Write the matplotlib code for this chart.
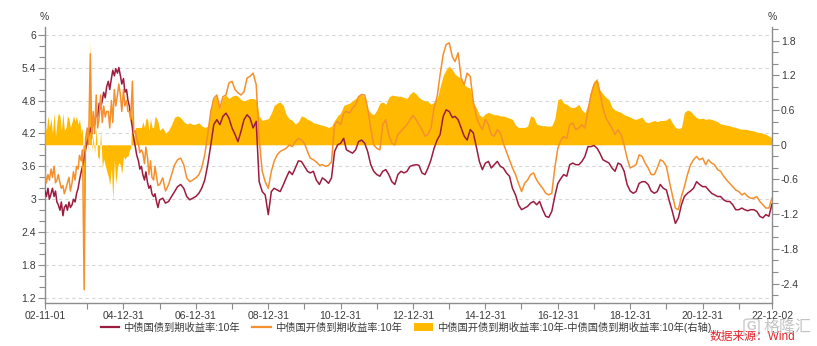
import matplotlib

matplotlib.use("Agg")

import matplotlib.dates as mdates
import matplotlib.pyplot as plt
import numpy as np
import pandas as pd
from matplotlib.lines import Line2D
from matplotlib.patches import FancyBboxPatch, Patch

plt.rcParams["font.family"] = ["Liberation Sans", "Noto Sans CJK SC"]

# ChinaBond 10Y yields (%), semi-monthly 2002-11 .. 2005-12
cgb_early = [
    3.15, 3.05, 3.2, 3.0,
    3.1, 3.2, 3.05, 3.15, 2.95, 2.9, 2.8, 2.95, 2.7, 2.85, 2.9, 2.8,
    2.95, 2.85, 2.9, 3.0, 2.95, 3.1, 3.2, 3.35, 3.5, 3.6, 3.75, 3.9,
    4.05, 4.15, 4.3, 4.2, 4.45, 4.35, 4.6, 4.5, 4.75, 4.65, 4.8, 4.95,
    4.85, 5.05, 5.15, 5.0, 5.2, 5.35, 5.25, 5.38, 5.3, 5.4, 5.25, 5.1,
    5.2, 4.95, 5.0, 4.8, 4.7, 4.5, 4.3, 4.1, 3.95, 3.8, 3.7, 3.55,
    3.6, 3.45, 3.35, 3.5, 3.3, 3.2, 3.25, 3.1, 3.05, 3.1, 2.95, 2.85,
]
cdb_early = [
    3.5, 3.3, 3.45, 3.35,
    3.55, 3.4, 3.6, 3.3, 3.35, 3.45, 3.3, 3.2, 3.25, 3.1, 3.2, 3.3,
    3.4, 3.15, 3.3, 3.5, 3.35, 3.6, 3.55, 3.8, 3.7, 3.9, 1.35, 4.1,
    4.3, 4.0, 5.65, 4.1, 4.6, 4.2, 4.9, 4.3, 4.5, 4.9, 4.4, 4.7,
    4.5, 4.6, 4.6, 4.3, 4.8, 4.4, 5.0, 4.7, 4.9, 5.1, 4.9, 4.6,
    5.0, 4.7, 4.8, 4.6, 4.6, 4.45, 5.15, 4.2, 4.25, 4.1, 4.0, 3.85,
    3.9, 3.85, 3.65, 3.95, 3.75, 3.45, 3.7, 3.4, 3.35, 3.6, 3.4, 3.25,
]
# CDB minus CGB spread (pct pts, right axis), same dates
spread_early = [
    0.35, 0.25, 0.5, 0.3,
    0.45, 0.2, 0.55, 0.15, 0.4, 0.55, 0.5, 0.25, 0.55, 0.25, 0.3, 0.5,
    0.45, 0.3, 0.4, 0.5, 0.4, 0.5, 0.35, 0.45, 0.2, 0.3, -2.0, 0.2,
    0.25, -0.15, 1.8, -0.1, 0.15, -0.15, 0.3, -0.2, -0.25, 0.25, -0.4, -0.25,
    -0.35, -0.45, -0.55, -0.7, -0.4, -0.95, -0.25, -0.68, -0.4, -0.3, -0.35, -0.5,
    -0.2, -0.25, -0.2, -0.2, -0.1, -0.05, 0.85, 0.1, 0.3, 0.3, 0.3, 0.3,
    0.3, 0.4, 0.3, 0.45, 0.45, 0.25, 0.45, 0.3, 0.3, 0.5, 0.45, 0.4,
]

# monthly 2006-01 .. 2022-12, one row per year
cgb_monthly = [
    2.99, 3.02, 2.93, 2.96, 3.05, 3.14, 3.23, 3.27, 3.20, 3.05, 2.99, 3.02,
    3.05, 3.11, 3.20, 3.35, 3.63, 3.99, 4.36, 4.45, 4.36, 4.51, 4.57, 4.48,
    4.30, 4.18, 4.05, 4.24, 4.45, 4.54, 4.48, 4.30, 4.42, 3.32, 3.14, 3.08,
    2.72, 3.14, 3.20, 3.17, 3.14, 3.26, 3.39, 3.51, 3.45, 3.57, 3.70, 3.69,
    3.60, 3.51, 3.48, 3.51, 3.35, 3.27, 3.39, 3.35, 3.29, 3.39, 3.87, 3.99,
    4.02, 4.11, 3.90, 3.87, 3.84, 3.90, 4.05, 4.08, 4.02, 3.87, 3.63, 3.51,
    3.45, 3.42, 3.51, 3.54, 3.45, 3.32, 3.27, 3.45, 3.51, 3.48, 3.51, 3.60,
    3.62, 3.63, 3.62, 3.48, 3.45, 3.57, 3.72, 3.93, 4.08, 4.18, 4.51, 4.63,
    4.60, 4.49, 4.51, 4.45, 4.30, 4.15, 4.08, 4.27, 4.21, 3.96, 3.69, 3.54,
    3.66, 3.69, 3.57, 3.63, 3.69, 3.60, 3.57, 3.48, 3.42, 3.20, 3.08, 2.90,
    2.81, 2.84, 2.87, 2.93, 2.96, 2.90, 2.96, 2.81, 2.69, 2.67, 2.78, 3.05,
    3.29, 3.38, 3.45, 3.42, 3.63, 3.66, 3.63, 3.63, 3.69, 3.78, 3.96, 3.96,
    3.98, 3.93, 3.84, 3.72, 3.69, 3.66, 3.57, 3.51, 3.66, 3.63, 3.51, 3.27,
    3.15, 3.11, 3.14, 3.29, 3.32, 3.32, 3.27, 3.15, 3.11, 3.14, 3.27, 3.20,
    3.17, 2.96, 2.78, 2.56, 2.66, 2.90, 3.05, 3.11, 3.15, 3.20, 3.32, 3.27,
    3.23, 3.23, 3.17, 3.11, 3.08, 3.05, 3.05, 2.99, 2.96, 2.96, 2.90, 2.81,
    2.81, 2.84, 2.81, 2.79, 2.81, 2.81, 2.78, 2.69, 2.66, 2.72, 2.69, 2.91,
]
cdb_monthly = [
    3.27, 3.39, 3.15, 3.27, 3.45, 3.63, 3.72, 3.75, 3.63, 3.39, 3.32, 3.35,
    3.39, 3.45, 3.57, 3.81, 4.18, 4.60, 4.84, 4.90, 4.66, 4.87, 4.90, 5.12,
    5.15, 5.00, 4.94, 4.90, 4.96, 5.21, 5.24, 5.30, 5.09, 4.11, 3.51, 3.32,
    3.20, 3.51, 3.69, 3.81, 3.87, 3.90, 3.93, 3.99, 3.96, 4.05, 4.11, 4.08,
    4.02, 3.87, 3.75, 3.72, 3.68, 3.62, 3.63, 3.60, 3.62, 3.68, 4.36, 4.42,
    4.36, 4.57, 4.60, 4.57, 4.66, 4.72, 4.87, 4.91, 4.90, 4.66, 4.30, 3.99,
    3.93, 3.90, 4.36, 4.45, 4.18, 4.02, 3.99, 4.18, 4.24, 4.30, 4.36, 4.45,
    4.53, 4.45, 4.36, 4.27, 4.15, 4.18, 4.30, 4.66, 4.87, 5.27, 5.64, 5.82,
    5.85, 5.60, 5.51, 5.67, 5.21, 5.09, 5.30, 5.24, 4.78, 4.51, 4.36, 4.27,
    4.45, 4.36, 4.18, 4.15, 4.27, 4.21, 4.02, 3.87, 3.72, 3.57, 3.45, 3.29,
    3.14, 3.29, 3.35, 3.45, 3.48, 3.35, 3.27, 3.20, 3.11, 3.08, 3.11, 3.57,
    3.93, 4.08, 4.14, 4.11, 4.36, 4.39, 4.27, 4.30, 4.36, 4.30, 4.60, 4.90,
    5.09, 5.15, 4.94, 4.66, 4.48, 4.39, 4.30, 4.18, 4.27, 4.18, 3.99, 3.75,
    3.57, 3.60, 3.63, 3.81, 3.78, 3.66, 3.57, 3.45, 3.45, 3.57, 3.72, 3.69,
    3.60, 3.32, 3.08, 2.84, 2.81, 3.05, 3.23, 3.45, 3.63, 3.72, 3.78, 3.72,
    3.75, 3.63, 3.72, 3.66, 3.63, 3.54, 3.51, 3.42, 3.35, 3.29, 3.23, 3.17,
    3.14, 3.08, 3.11, 3.05, 3.02, 3.02, 3.05, 2.96, 2.90, 2.84, 2.84, 3.02,
]
spread_monthly = [
    0.25, 0.30, 0.20, 0.25, 0.35, 0.48, 0.50, 0.47, 0.40, 0.36, 0.38, 0.35,
    0.36, 0.38, 0.33, 0.30, 0.32, 0.60, 0.80, 0.85, 0.62, 0.82, 0.86, 0.80,
    0.84, 0.86, 0.84, 0.78, 0.76, 0.78, 0.80, 0.80, 0.78, 0.50, 0.42, 0.44,
    0.45, 0.55, 0.68, 0.72, 0.74, 0.68, 0.52, 0.45, 0.42, 0.36, 0.40, 0.50,
    0.48, 0.44, 0.42, 0.38, 0.37, 0.35, 0.34, 0.32, 0.30, 0.32, 0.42, 0.50,
    0.55, 0.68, 0.70, 0.72, 0.76, 0.80, 0.85, 0.87, 0.82, 0.62, 0.55, 0.52,
    0.60, 0.72, 0.74, 0.70, 0.82, 0.86, 0.85, 0.84, 0.84, 0.82, 0.80, 0.88,
    0.92, 0.88, 0.82, 0.78, 0.76, 0.75, 0.70, 0.74, 0.80, 1.00, 1.20, 1.30,
    1.36, 1.30, 1.22, 1.18, 1.14, 1.04, 1.00, 0.98, 0.72, 0.64, 0.52, 0.48,
    0.54, 0.56, 0.54, 0.52, 0.52, 0.50, 0.50, 0.48, 0.46, 0.44, 0.34, 0.30,
    0.30, 0.30, 0.32, 0.50, 0.48, 0.36, 0.34, 0.33, 0.33, 0.32, 0.33, 0.45,
    0.78, 0.80, 0.72, 0.70, 0.66, 0.64, 0.66, 0.70, 0.60, 0.55, 0.70, 0.95,
    1.10, 1.15, 0.95, 0.88, 0.82, 0.78, 0.65, 0.60, 0.58, 0.56, 0.52, 0.50,
    0.48, 0.45, 0.44, 0.46, 0.48, 0.40, 0.38, 0.40, 0.42, 0.40, 0.42, 0.42,
    0.43, 0.47, 0.38, 0.30, 0.28, 0.30, 0.56, 0.60, 0.58, 0.52, 0.47, 0.45,
    0.46, 0.44, 0.45, 0.44, 0.42, 0.40, 0.36, 0.35, 0.34, 0.33, 0.31, 0.30,
    0.28, 0.27, 0.27, 0.26, 0.25, 0.24, 0.22, 0.21, 0.20, 0.18, 0.15, 0.12,
]

x_tick_dates = ["2002-11-01", "2004-12-31", "2006-12-31", "2008-12-31", "2010-12-31",
                "2012-12-31", "2014-12-31", "2016-12-31", "2018-12-31", "2020-12-31",
                "2022-12-02"]
x_tick_labels = ["02-11-01", "04-12-31", "06-12-31", "08-12-31", "10-12-31", "12-12-31",
                 "14-12-31", "16-12-31", "18-12-31", "20-12-31", "22-12-02"]
left_ticks = [1.2, 1.8, 2.4, 3.0, 3.6, 4.2, 4.8, 5.4, 6.0]
left_tick_labels = ["1.2", "1.8", "2.4", "3", "3.6", "4.2", "4.8", "5.4", "6"]
right_ticks = [-2.4, -1.8, -1.2, -0.6, 0.0, 0.6, 1.2, 1.8]
right_tick_labels = ["-2.4", "-1.8", "-1.2", "-0.6", "0", "0.6", "1.2", "1.8"]

label_cgb = "中债国债到期收益率:10年"
label_cdb = "中债国开债到期收益率:10年"
label_spread = "中债国开债到期收益率:10年-中债国债到期收益率:10年(右轴)"

RED = "#9c1c40"
ORANGE = "#f5902e"
GOLD = "#ffb900"
AXIS_GREY = "#8c8c8c"
TEXT_GREY = "#3a3a3a"

W, H = 817, 346


def build_frame() -> pd.DataFrame:
    dates = pd.date_range("2002-11-01", "2005-12-16", freq="SMS").append(
        pd.date_range("2006-01-01", "2022-12-01", freq="MS")
    )
    df = pd.DataFrame(
        {
            "cgb": cgb_early + cgb_monthly,
            "cdb": cdb_early + cdb_monthly,
            "spread": spread_early + spread_monthly,
        },
        index=dates,
    )
    return df


def style_ticks(axis, side: str) -> None:
    axis.tick_params(axis="y", which="both", direction="out", colors=AXIS_GREY,
                     labelcolor=TEXT_GREY, labelsize=7.5, width=0.8, pad=1.5)
    axis.tick_params(axis="y", which="major", length=5)
    axis.tick_params(axis="y", which="minor", length=4)
    axis.spines[side].set_color(AXIS_GREY)
    axis.spines[side].set_linewidth(1.0)


def main() -> None:
    df = build_frame()

    fig = plt.figure(figsize=(W / 100, H / 100), dpi=100)
    ax = fig.add_axes([45 / W, 1 - 303 / H, 727 / W, 276 / H])
    ax_r = ax.twinx()
    ax_l = ax.twinx()

    # left axis: grid and ticks only
    ax.set_ylim(1.109, 6.14)
    ax.set_yticks(left_ticks, left_tick_labels)
    ax.set_yticks(np.arange(1.2, 6.05, 0.2), minor=True)
    ax.grid(axis="y", color="#d6d6d6", linestyle=(0, (3, 3)), linewidth=0.8)
    ax.grid(axis="x", visible=False)
    for side in ("top", "right"):
        ax.spines[side].set_visible(False)
    style_ticks(ax, "left")

    # spread on the right axis, behind the yield lines
    ax_r.fill_between(df.index, 0, df["spread"], color=GOLD, linewidth=0)
    ax_r.set_ylim(-2.736, 2.037)
    ax_r.set_yticks(right_ticks, right_tick_labels)
    ax_r.set_yticks(np.arange(-2.6, 2.05, 0.2), minor=True)
    for side in ("top", "left", "bottom"):
        ax_r.spines[side].set_visible(False)
    style_ticks(ax_r, "right")

    ax_l.plot(df.index, df["cgb"], color=RED, linewidth=1.1)
    ax_l.plot(df.index, df["cdb"], color=ORANGE, linewidth=1.1)
    ax_l.set_ylim(ax.get_ylim())
    ax_l.set_yticks([])
    for spine in ax_l.spines.values():
        spine.set_visible(False)

    x0, x1 = pd.Timestamp("2002-11-01"), pd.Timestamp("2022-12-02")
    for a in (ax, ax_r, ax_l):
        a.set_xlim(x0, x1)
    ax.set_xticks(pd.to_datetime(x_tick_dates), x_tick_labels)
    ax.set_xticks(pd.to_datetime([f"{y}-12-31" for y in range(2003, 2022, 2)]), minor=True)
    ax.xaxis.set_minor_formatter(mdates.DateFormatter(""))
    ax.tick_params(axis="x", which="both", direction="out", length=4, width=0.8,
                   colors=AXIS_GREY, labelcolor=TEXT_GREY, labelsize=7.5, pad=1.5)
    ax.spines["bottom"].set_color(AXIS_GREY)
    ax.spines["bottom"].set_linewidth(1.0)

    fig.text(44 / W, 1 - 17.5 / H, "%", fontsize=7.5, color=TEXT_GREY, ha="center", va="center")
    fig.text(772 / W, 1 - 17.5 / H, "%", fontsize=7.5, color=TEXT_GREY, ha="center", va="center")

    handles = [
        Line2D([], [], color=RED, linewidth=1.6),
        Line2D([], [], color=ORANGE, linewidth=1.6),
        Patch(facecolor=GOLD, edgecolor="none"),
    ]
    fig.legend(handles, [label_cgb, label_cdb, label_spread], loc="center",
               bbox_to_anchor=(406 / W, 1 - 327 / H), ncol=3, frameon=False,
               fontsize=7.4, handlelength=1.8, handleheight=0.8, handletextpad=0.4,
               columnspacing=1.2, labelcolor=TEXT_GREY, borderpad=0.1)

    fig.text(795 / W, 1 - 337 / H, "数据来源：Wind", fontsize=8.5, color="#e0242b",
             ha="right", va="center")

    # faint publisher mark in the corner
    fig.patches.append(FancyBboxPatch((744 / W, 1 - 336 / H), 15 / W, 17 / H,
                                      boxstyle="round,pad=0,rounding_size=0.006",
                                      transform=fig.transFigure, facecolor="none",
                                      edgecolor="#bdbdbd", linewidth=1.0, alpha=0.8))
    fig.text(751.5 / W, 1 - 327.5 / H, "G", fontsize=9, color="#bdbdbd", alpha=0.8,
             ha="center", va="center", fontweight="bold")
    fig.text(812 / W, 1 - 327 / H, "格隆汇", fontsize=11.5, color="#b5b5b5",
             alpha=0.8, ha="right", va="center")

    fig.savefig("out.png", dpi=100)
    plt.close(fig)


if __name__ == "__main__":
    main()
